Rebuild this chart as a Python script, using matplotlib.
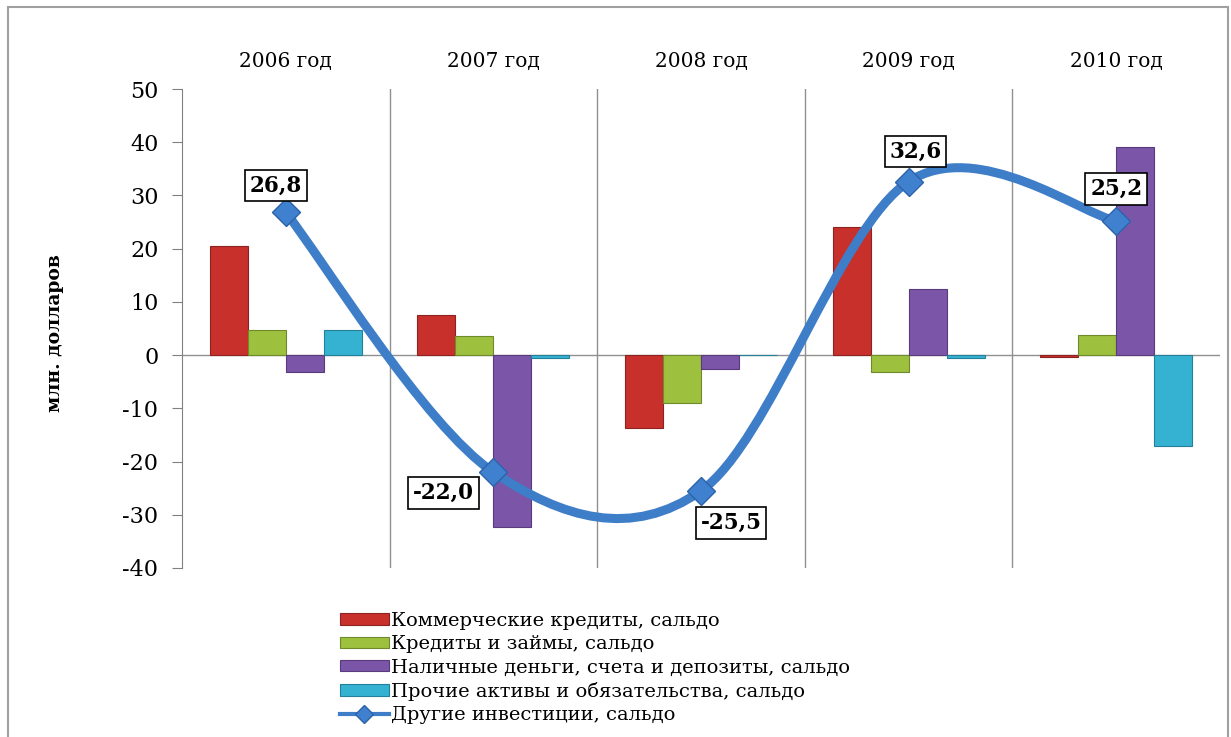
import numpy as np
import matplotlib
matplotlib.use("Agg")
import matplotlib.pyplot as plt
from matplotlib.path import Path
from matplotlib.patches import PathPatch, Rectangle
from matplotlib.lines import Line2D

plt.rcParams['font.family'] = ['DejaVu Serif', 'Liberation Serif']
plt.rcParams['axes.unicode_minus'] = False

# данные (млн. долларов)
years = ['2006 год', '2007 год', '2008 год', '2009 год', '2010 год']
commercial = [20.5, 7.5, -13.7, 24.0, -0.3]
loans = [4.7, 3.6, -9.0, -3.2, 3.8]
cash = [-3.2, -32.3, -2.6, 12.4, 39.1]
other_assets = [4.7, -0.6, 0.1, -0.5, -17.1]
other_invest = [26.8, -22.0, -25.5, 32.6, 25.2]
invest_labels = ['26,8', '-22,0', '-25,5', '32,6', '25,2']

series_names = ['Коммерческие кредиты, сальдо',
                'Кредиты и займы, сальдо',
                'Наличные деньги, счета и депозиты, сальдо',
                'Прочие активы и обязательства, сальдо']
line_name = 'Другие инвестиции, сальдо'

bar_colors = ['#C8302C', '#9DC13F', '#7B55A8', '#35B2D2']
edge_colors = ['#8E2220', '#6E8A2A', '#573B7A', '#24809A']
line_color = '#3E7DC8'

fig = plt.figure(figsize=(12.31, 7.37), dpi=100)
ax = fig.add_axes([182/1231, 1 - 568/737, (1220-182)/1231, (568-89)/737])

x = np.arange(len(years))
w = 0.183
handles = []
for i, vals in enumerate([commercial, loans, cash, other_assets]):
    b = ax.bar(x + (i - 1.5) * w, vals, width=w, color=bar_colors[i],
               edgecolor=edge_colors[i], linewidth=0.8, zorder=2,
               label=series_names[i])
    handles.append(b)

# сглаженная линия (кривые Безье через точки ряда)
pts = np.column_stack([x, other_invest]).astype(float)
ext = np.vstack([pts[0], pts, pts[-1]])
verts = [tuple(pts[0])]
codes = [Path.MOVETO]
for k in range(len(pts) - 1):
    p0, p1, p2, p3 = ext[k], ext[k+1], ext[k+2], ext[k+3]
    c1 = p1 + (p2 - p0) / 6
    c2 = p2 - (p3 - p1) / 6
    verts += [tuple(c1), tuple(c2), tuple(p2)]
    codes += [Path.CURVE4] * 3
ax.add_patch(PathPatch(Path(verts, codes), facecolor='none',
                       edgecolor=line_color, linewidth=6.5, zorder=3,
                       capstyle='round'))
ax.plot(x, other_invest, linestyle='none', marker='D', markersize=14,
        color='#3F80CF', markeredgecolor='#2C63A8', zorder=4)

# подписи значений
offsets = [(-10, 27), (-50, -21), (30, -32), (7, 30), (0, 32)]
for xi, yi, txt, off in zip(x, other_invest, invest_labels, offsets):
    ax.annotate(txt, (xi, yi), xytext=off, textcoords='offset pixels',
                ha='center', va='center', fontsize=15.5, fontweight='bold',
                bbox=dict(boxstyle='square,pad=0.22', fc='white', ec='black', lw=1.2),
                zorder=5)

ax.set_xlim(-0.5, 4.5)
ax.set_ylim(-40, 50)
ax.set_yticks(range(-40, 51, 10))
ax.tick_params(axis='y', direction='out', length=7, color='#808080',
               labelsize=16, pad=10)
ax.xaxis.tick_top()
ax.set_xticks(x)
ax.set_xticklabels(years, fontsize=14.5)
ax.tick_params(axis='x', length=0, pad=13)

for s in ['top', 'right', 'bottom']:
    ax.spines[s].set_visible(False)
ax.spines['left'].set_color('#808080')
ax.axhline(0, color='#909090', linewidth=1, zorder=1)
for d in [0.5, 1.5, 2.5, 3.5]:
    ax.axvline(d, color='#909090', linewidth=1, zorder=1)

fig.text(55/1231, 1 - 333/737, 'млн. долларов', rotation=90, ha='center',
         va='center', fontsize=13.5, fontweight='bold')

line_handle = Line2D([], [], color=line_color, linewidth=3, marker='D',
                     markersize=9, markerfacecolor='#3F80CF',
                     markeredgecolor='#2C63A8')
fig.legend(handles + [line_handle], series_names + [line_name],
           loc='upper left', bbox_to_anchor=(340/1231, 1 - 612/737),
           frameon=False, fontsize=14, handlelength=2.5, handleheight=0.55,
           handletextpad=0.1, labelspacing=0.27, borderpad=0, borderaxespad=0)

fig.add_artist(Rectangle((8/1231, -0.05), (1228-8)/1231, 1.05 - 7/737,
                         transform=fig.transFigure, fill=False,
                         edgecolor='#A0A0A0', linewidth=1.5))

fig.savefig('out.png', dpi=100)
